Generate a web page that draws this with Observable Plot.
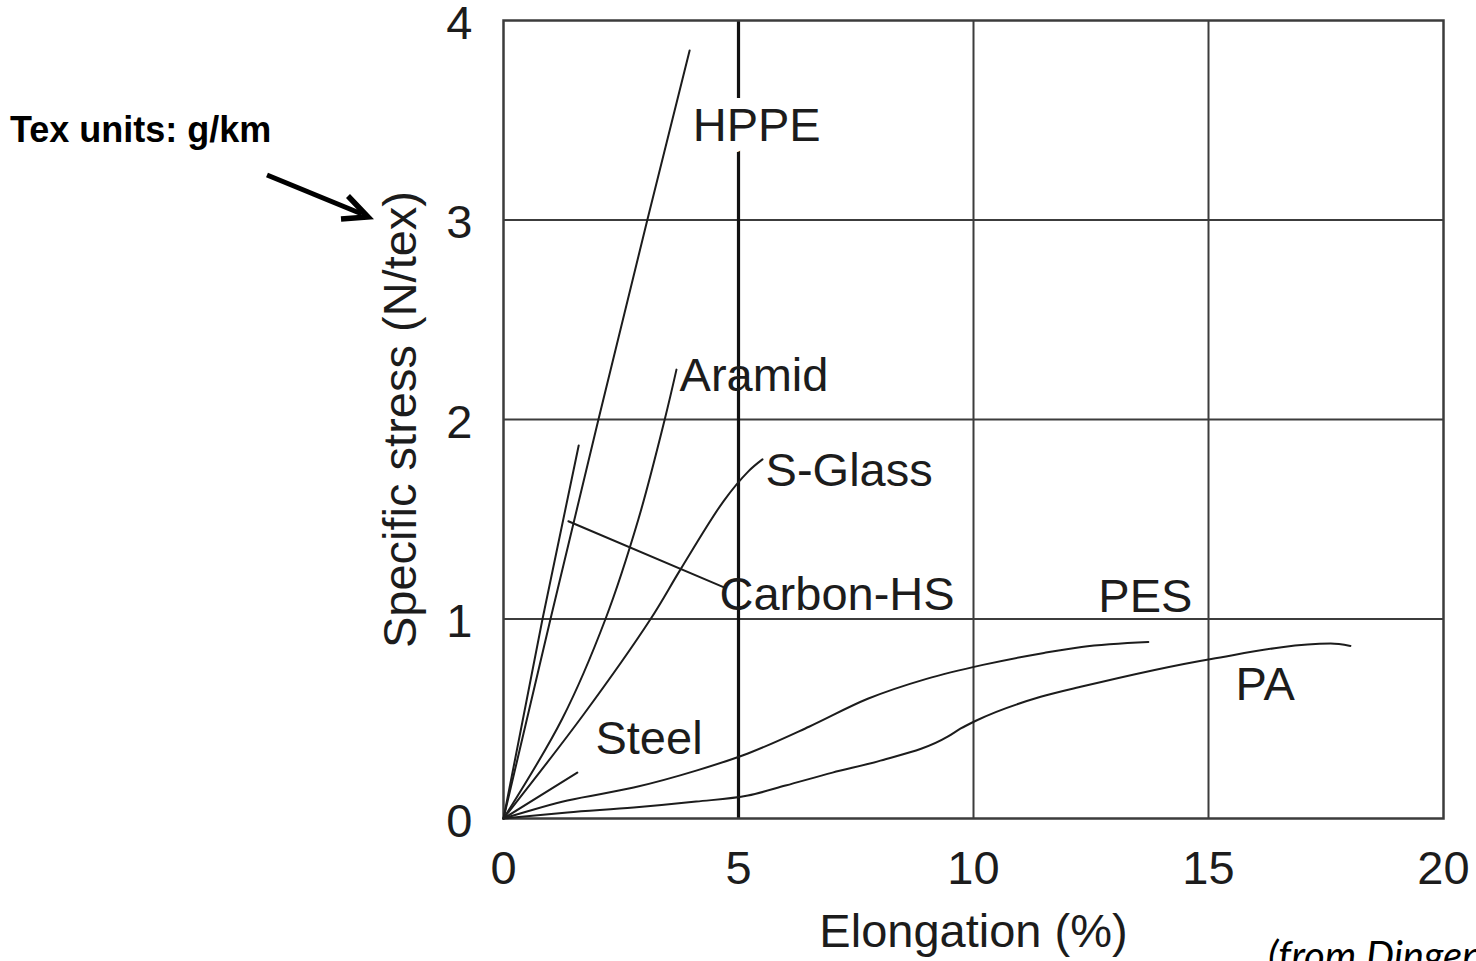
<!DOCTYPE html>
<html><head><meta charset="utf-8">
<script src="https://cdn.jsdelivr.net/npm/d3@7"></script>
<script src="https://cdn.jsdelivr.net/npm/@observablehq/plot@0.6"></script>
<style>
html,body{margin:0;padding:0;background:#fff;overflow:hidden;width:1476px;height:961px}
#wrap{position:relative;width:1476px;height:961px;overflow:hidden}
#note{position:absolute;left:10px;top:112px;font:bold 36px/36px "Liberation Sans",Arial,sans-serif;color:#000;white-space:nowrap}
#src{position:absolute;left:1268px;top:935px;font:italic 40px/40px Lato,"Liberation Sans",sans-serif;color:#000;white-space:nowrap}
#arrow{position:absolute;left:0;top:0}
</style></head><body>
<div id="wrap"></div>
<script>
// ---- data ----
const xTicks = [0, 5, 10, 15, 20];
const yTicks = [0, 1, 2, 3, 4];
const xLabel = "Elongation (%)";
const yLabel = "Specific stress (N/tex)";

const hppeX   = [0, 1.0, 2.02, 3.06, 3.96];
const hppeY   = [0, 1.0, 2.0, 3.0, 3.85];
const carbonX = [0, 0.83, 1.6];
const carbonY = [0, 1.0, 1.87];
const aramidX = [0, 1.25, 2.17, 2.87, 3.43, 3.68];
const aramidY = [0, 0.5, 1.0, 1.5, 2.0, 2.25];
const sglassX = [0, 1.7, 3.13, 3.77, 4.68, 5.21, 5.51];
const sglassY = [0, 0.52, 1.0, 1.25, 1.59, 1.74, 1.80];
const steelX  = [0, 1.57];
const steelY  = [0, 0.23];
const pesX    = [0, 1.36, 2.77, 4.1, 5.2, 6.5, 7.75, 9.0, 10.2, 11.5, 12.3, 13.72];
const pesY    = [0, 0.09, 0.155, 0.24, 0.326, 0.46, 0.60, 0.70, 0.77, 0.83, 0.86, 0.885];
const paX     = [0, 1.36, 2.77, 4.1, 5.2, 6.0, 7.0, 8.02, 9.45, 9.72, 10.05, 11.43, 12.28, 15.06, 17.6, 18.02];
const paY     = [0, 0.03, 0.055, 0.085, 0.115, 0.165, 0.23, 0.29, 0.41, 0.45, 0.49, 0.61, 0.66, 0.80, 0.877, 0.865];

const leaderX = [1.38, 4.68];
const leaderY = [1.49, 1.16];

const labelText = ["HPPE", "Aramid", "S-Glass", "Carbon-HS", "PES", "PA", "Steel"];
const labelX    = [4.09, 3.81, 5.64, 4.66, 12.72, 15.64, 2.02];
const labelY    = [3.47, 2.22, 1.74, 1.12, 1.11, 0.67, 0.40];

const noteText = "Tex units: g/km";
const sourceText = "(from Dingenen, 2001)";

// ---- build tables ----
const straight = [["HPPE", hppeX, hppeY], ["Carbon-HS", carbonX, carbonY], ["Steel", steelX, steelY]];
const bent = [["Aramid", aramidX, aramidY], ["S-Glass", sglassX, sglassY]];
const polymer = [["PES", pesX, pesY], ["PA", paX, paY]];
const toRows = list => list.flatMap(([name, xs, ys]) => xs.map((x, i) => ({fibre: name, x, y: ys[i]})));
const leader = leaderX.map((x, i) => ({x, y: leaderY[i]}));
const labels = labelText.map((t, i) => ({t, x: labelX[i], y: labelY[i]}));

const FONT = "'Liberation Sans', Arial, Helvetica, sans-serif";
const INK = "#1c1c1c";
const GRID = "#3c3c3c";
const lineOpts = {x: "x", y: "y", z: "fibre", stroke: INK, strokeWidth: 2};

const chart = Plot.plot({
  width: 1476, height: 961,
  marginLeft: 503, marginRight: 33, marginTop: 20, marginBottom: 143,
  style: {fontFamily: FONT, fontSize: "47px", color: INK, background: "transparent"},
  x: {domain: [0, 20]},
  y: {domain: [0, 4]},
  marks: [
    Plot.gridY([1, 2, 3], {stroke: GRID, strokeOpacity: 1, strokeWidth: 2}),
    Plot.gridX([10, 15], {stroke: GRID, strokeOpacity: 1, strokeWidth: 2}),
    Plot.gridX([5], {stroke: "#111", strokeOpacity: 1, strokeWidth: 3.2}),
    Plot.frame({stroke: GRID, strokeWidth: 2.5}),
    Plot.line(toRows(straight), {...lineOpts, curve: "linear"}),
    Plot.line(toRows(bent), {...lineOpts, curve: "catmull-rom"}),
    Plot.line(toRows(polymer), {...lineOpts, curve: "monotone-x"}),
    Plot.line(leader, {x: "x", y: "y", stroke: INK, strokeWidth: 2}),
    Plot.text(labels.filter(d => d.t === "HPPE"), {x: "x", y: "y", text: "t", textAnchor: "start", lineAnchor: "middle", dx: -3, fontSize: 47, fill: INK, stroke: "white", strokeWidth: 22}),
    Plot.text(labels.filter(d => d.t !== "HPPE"), {x: "x", y: "y", text: "t", textAnchor: "start", lineAnchor: "middle", dx: -3, fontSize: 47, fill: INK}),
    Plot.axisX({ticks: xTicks, tickFormat: d => String(d), tickSize: 0, tickPadding: 32, label: null, fontSize: 47}),
    Plot.axisY({ticks: yTicks, tickFormat: d => String(d), tickSize: 0, tickPadding: 31, dy: 3, label: null, fontSize: 47}),
    Plot.text([xLabel], {text: d => d, frameAnchor: "bottom", dy: 113, textAnchor: "middle", lineAnchor: "middle", fontSize: 47, fill: INK}),
    Plot.text([yLabel], {text: d => d, frameAnchor: "left", dx: -103, rotate: -90, textAnchor: "middle", lineAnchor: "middle", fontSize: 47, fill: INK})
  ]
});

const wrap = document.getElementById("wrap");
wrap.appendChild(chart);

const note = document.createElement("div");
note.id = "note"; note.textContent = noteText;
wrap.appendChild(note);

const src = document.createElement("div");
src.id = "src"; src.textContent = sourceText;
wrap.appendChild(src);

// annotation arrow pointing at the axis unit
const ns = "http://www.w3.org/2000/svg";
const svg = document.createElementNS(ns, "svg");
svg.setAttribute("id", "arrow");
svg.setAttribute("width", 1476); svg.setAttribute("height", 961);
svg.style.pointerEvents = "none";
const shaft = document.createElementNS(ns, "path");
shaft.setAttribute("d", "M267,175 L362,214");
shaft.setAttribute("stroke", "#000"); shaft.setAttribute("stroke-width", "5"); shaft.setAttribute("fill", "none");
const head = document.createElementNS(ns, "path");
head.setAttribute("d", "M348,196 L368,217 L341,219");
head.setAttribute("stroke", "#000"); head.setAttribute("stroke-width", "5.5"); head.setAttribute("fill", "none");
svg.appendChild(shaft); svg.appendChild(head);
wrap.appendChild(svg);
</script>
</body></html>
